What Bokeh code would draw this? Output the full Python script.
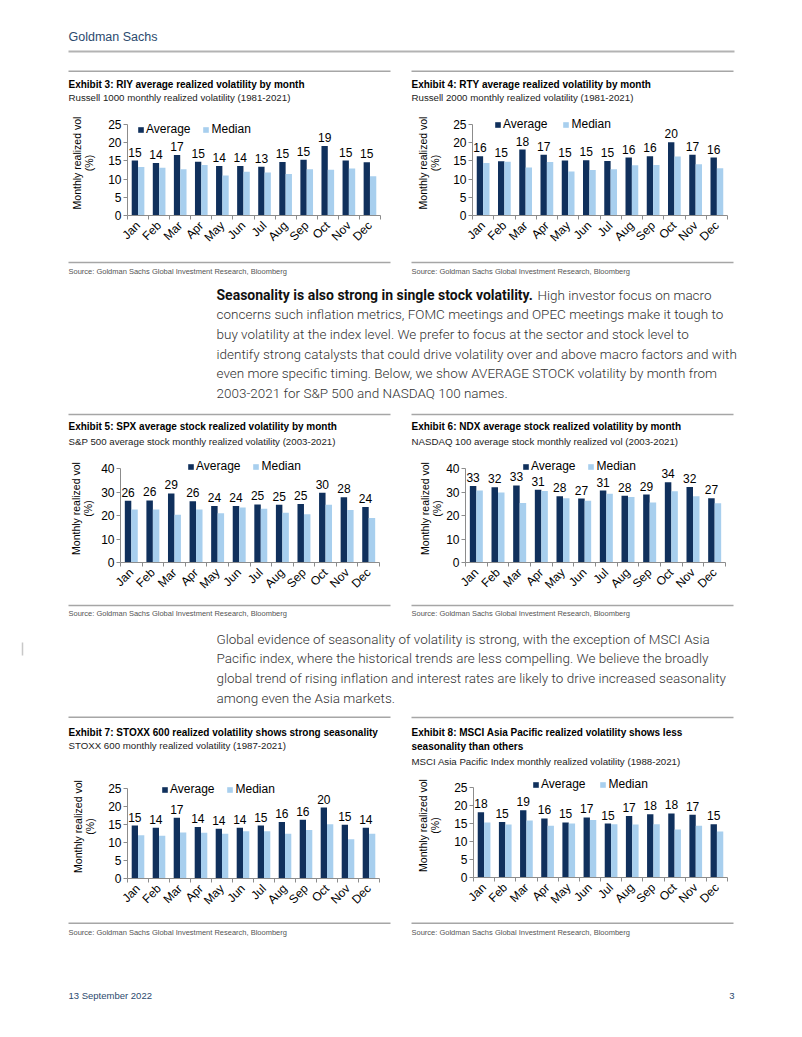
import numpy as np
from bokeh.plotting import figure
from bokeh.layouts import column, row
from bokeh.models import Range1d, FixedTicker, Legend, LegendItem, ColumnDataSource, LabelSet
from bokeh.transform import dodge
from bokeh.core.properties import value
from bokeh.embed import file_html
from bokeh.resources import INLINE

# ---------------- data ----------------
months = ["Jan", "Feb", "Mar", "Apr", "May", "Jun", "Jul", "Aug", "Sep", "Oct", "Nov", "Dec"]
series_names = ["Average", "Median"]

riy_avg = [15.1, 14.4, 16.6, 14.8, 13.6, 13.6, 13.4, 14.7, 15.3, 19.1, 15.1, 14.6]
riy_med = [13.3, 13.1, 12.7, 13.9, 11.0, 12.0, 11.8, 11.4, 12.7, 12.6, 12.9, 10.8]

rty_avg = [16.3, 14.9, 18.1, 16.7, 15.1, 15.2, 15.0, 15.9, 16.3, 20.1, 16.7, 15.9]
rty_med = [14.4, 14.8, 13.2, 14.7, 12.1, 12.5, 12.7, 13.8, 13.9, 16.2, 14.1, 13.0]

spx_avg = [26.3, 26.4, 29.4, 26.1, 24.0, 24.0, 24.7, 24.6, 24.9, 29.7, 27.8, 23.6]
spx_med = [22.6, 22.6, 20.3, 22.6, 21.0, 23.4, 22.9, 21.2, 20.5, 24.6, 22.3, 18.9]

ndx_avg = [32.6, 32.0, 32.8, 31.0, 28.2, 27.2, 30.6, 28.4, 28.9, 34.2, 32.1, 27.3]
ndx_med = [30.6, 29.8, 25.3, 30.4, 27.3, 26.3, 29.3, 27.9, 25.5, 30.3, 28.2, 25.2]

stoxx_avg = [14.7, 14.1, 16.9, 14.3, 13.8, 14.1, 14.7, 15.7, 16.3, 19.7, 14.9, 14.1]
stoxx_med = [12.0, 11.9, 12.8, 12.7, 12.4, 13.1, 13.1, 12.4, 13.5, 15.1, 10.9, 12.4]

mxap_avg = [18.1, 15.4, 18.7, 16.4, 15.3, 16.7, 15.0, 17.1, 17.6, 17.8, 17.4, 14.8]
mxap_med = [15.3, 14.7, 15.8, 14.4, 15.0, 16.0, 14.8, 14.7, 14.8, 13.3, 14.4, 12.8]

y_axis_label = "Monthly realized vol\n(%)"
source_text = "Source: Goldman Sachs Global Investment Research, Bloomberg"

para1_bold = "Seasonality is also strong in single stock volatility."
para1_lines = [
    "High investor focus on macro",
    "concerns such inflation metrics, FOMC meetings and OPEC meetings make it tough to",
    "buy volatility at the index level. We prefer to focus at the sector and stock level to",
    "identify strong catalysts that could drive volatility over and above macro factors and with",
    "even more specific timing. Below, we show AVERAGE STOCK volatility by month from",
    "2003-2021 for S&P 500 and NASDAQ 100 names.",
]
para2_lines = [
    "Global evidence of seasonality of volatility is strong, with the exception of MSCI Asia",
    "Pacific index, where the historical trends are less compelling. We believe the broadly",
    "global trend of rising inflation and interest rates are likely to drive increased seasonality",
    "among even the Asia markets.",
]

# ---------------- style ----------------
DARK = "#10305c"
LIGHT = "#a8cfee"
RULE = "#a6a6a6"
AXIS = "#8c8c8c"
CHART_FONT = "Liberation Sans"
BODY = "'Roboto Light', Roboto"
BODY_BOLD = "Roboto"
HEAD = "#2c4a6e"
W = 800
LW, RW = 398, 402
EXT = 14  # frame head-room above the top tick, so legend and labels are not clipped


def blank(w, h):
    p = figure(width=w, height=h, x_range=Range1d(0, w), y_range=Range1d(h, 0),
               x_axis_type=None, y_axis_type=None, output_backend="svg",
               toolbar_location=None, min_border=0, title=None, frame_align=False)
    p.outline_line_color = None
    return p


def put_text(p, x, y, s, size, font=CHART_FONT, style="normal", color="#111", align="left"):
    p.text(x=[x], y=[y], text=[s], text_font=value(font), text_font_size=size,
           text_font_style=style, text_color=color, text_align=align, text_baseline="middle")


def rule(p, x0, x1, y, color=RULE, width=1.5):
    p.segment(x0=[x0], y0=[y], x1=[x1], y1=[y], line_color=color, line_width=width)


def chart(w, h, fl, ft, fw, fh, avg, med, ymax, ystep, leg_x, leg_dy, leg_sp, ax_standoff):
    yr = ymax * (fh + EXT) / fh
    p = figure(width=w, height=h, x_range=Range1d(-0.5, 11.5), y_range=Range1d(0, yr),
               output_backend="svg", toolbar_location=None, title=None, frame_align=False,
               min_border_left=fl, min_border_top=ft - EXT,
               min_border_right=w - fl - fw, min_border_bottom=h - ft - fh)
    p.grid.visible = False
    p.outline_line_color = None
    src = ColumnDataSource(dict(x=list(range(len(months))), avg=avg, med=med,
                                lab=[f"{v:.0f}" for v in avg]))
    r1 = p.vbar(x=dodge("x", -0.15), top="avg", width=0.3, source=src,
                fill_color=DARK, line_color=None)
    r2 = p.vbar(x=dodge("x", 0.15), top="med", width=0.3, source=src,
                fill_color=LIGHT, line_color=None)
    labels = LabelSet(x=dodge("x", -0.15), y="avg", text="lab", source=src,
                      text_align="center", text_baseline="bottom", y_offset=4,
                      text_font=value(CHART_FONT), text_font_size=value("12px"),
                      text_color=value("#000"))
    p.add_layout(labels)

    leg = Legend(items=[LegendItem(label=series_names[0], renderers=[r1]),
                        LegendItem(label=series_names[1], renderers=[r2])],
                 orientation="horizontal", location=(leg_x, fh - leg_dy - 7),
                 border_line_color=None, background_fill_alpha=0, padding=0, margin=0,
                 spacing=leg_sp, label_standoff=2, glyph_width=7, glyph_height=7,
                 label_height=14, label_text_font=CHART_FONT,
                 label_text_font_size="12px", label_text_color="#000")
    p.add_layout(leg)

    xa = p.xaxis[0]
    xa.ticker = FixedTicker(ticks=list(range(12)), minor_ticks=[i - 0.5 for i in range(13)])
    xa.major_label_overrides = {i: m for i, m in enumerate(months)}
    xa.major_label_orientation = np.pi / 4
    xa.major_tick_line_color = None
    xa.major_tick_in = 0
    xa.major_tick_out = 0
    xa.minor_tick_in = 0
    xa.minor_tick_out = 4
    xa.minor_tick_line_color = AXIS
    xa.axis_line_color = AXIS
    xa.major_label_standoff = 4
    xa.major_label_text_font = CHART_FONT
    xa.major_label_text_font_size = "12px"
    xa.major_label_text_color = "#000"

    ya = p.yaxis[0]
    ya.bounds = (0, ymax)
    ya.ticker = FixedTicker(ticks=list(range(0, ymax + 1, ystep)))
    ya.major_tick_in = 0
    ya.major_tick_out = 4
    ya.major_tick_line_color = AXIS
    ya.minor_tick_line_color = None
    ya.axis_line_color = AXIS
    ya.major_label_standoff = 2
    ya.major_label_text_font = CHART_FONT
    ya.major_label_text_font_size = "12px"
    ya.major_label_text_color = "#000"
    ya.axis_label = y_axis_label
    ya.axis_label_standoff = ax_standoff
    ya.axis_label_text_font = CHART_FONT
    ya.axis_label_text_font_size = "10.5px"
    ya.axis_label_text_font_style = "normal"
    ya.axis_label_text_line_height = 1.05
    ya.axis_label_text_color = "#000"
    return p


def exhibit(side, title_lines, subtitle, title_h, rule_y, title_ys, sub_y, chart_h, cparams,
            src_h, src_rule_y, src_y):
    w = LW if side == "L" else RW
    x0 = 68 if side == "L" else 13
    x1 = 390 if side == "L" else 335
    t = blank(w, title_h)
    rule(t, x0, x1, rule_y)
    for s, y in zip(title_lines, title_ys):
        put_text(t, x0, y, s, "10px", style="bold", color="#000")
    put_text(t, x0, sub_y, subtitle, "9.7px", color="#222")
    c = chart(w, chart_h, **cparams)
    s = blank(w, src_h)
    rule(s, x0, x1, src_rule_y)
    put_text(s, x0, src_y, source_text, "7.5px", color="#555")
    return column(t, c, s, spacing=0)


# ---------------- page ----------------
header = blank(W, 62)
put_text(header, 68, 36, "Goldman Sachs", "12.5px", color=HEAD)
rule(header, 68, 734, 51, color="#b3b3b3", width=2)

ex3 = exhibit("L", ["Exhibit 3: RIY average realized volatility by month"],
              "Russell 1000 monthly realized volatility (1981-2021)",
              46, 8.7, [22], 34.7, 150,
              dict(fl=127, ft=16, fw=253, fh=91, avg=riy_avg, med=riy_med, ymax=25, ystep=5,
                   leg_x=10, leg_dy=5, leg_sp=12, ax_standoff=10),
              22, 4, 13)
ex4 = exhibit("R", ["Exhibit 4: RTY average realized volatility by month"],
              "Russell 2000 monthly realized volatility (1981-2021)",
              46, 8.7, [22], 34.7, 150,
              dict(fl=74, ft=16, fw=255, fh=91, avg=rty_avg, med=rty_med, ymax=25, ystep=5,
                   leg_x=22, leg_dy=0, leg_sp=15, ax_standoff=9),
              22, 4, 13)

para1 = blank(W, 124)
p1y = [14, 33.5, 53, 73, 92.5, 112]
put_text(para1, 216, p1y[0], para1_bold, "14px", font=BODY_BOLD, style="bold", color="#111")
put_text(para1, 537, p1y[0], para1_lines[0], "13.5px", font=BODY, color="#333")
for s, y in zip(para1_lines[1:], p1y[1:]):
    put_text(para1, 216, y, s, "13.5px", font=BODY, color="#333")

ex5 = exhibit("L", ["Exhibit 5: SPX average stock realized volatility by month"],
              "S&P 500 average stock monthly realized volatility (2003-2021)",
              46, 10, [21.7], 37, 150,
              dict(fl=120, ft=18, fw=259, fh=94, avg=spx_avg, med=spx_med, ymax=40, ystep=10,
                   leg_x=67, leg_dy=-2, leg_sp=12, ax_standoff=4),
              22, 5, 13)
ex6 = exhibit("R", ["Exhibit 6: NDX average stock realized volatility by month"],
              "NASDAQ 100 average stock monthly realized vol (2003-2021)",
              46, 10, [21.7], 37, 150,
              dict(fl=67, ft=18, fw=260, fh=94, avg=ndx_avg, med=ndx_med, ymax=40, ystep=10,
                   leg_x=57, leg_dy=-2, leg_sp=12, ax_standoff=0),
              22, 5, 13)

para2 = blank(W, 86)
for s, y in zip(para2_lines, [16, 35.5, 55, 75]):
    put_text(para2, 216, y, s, "13.5px", font=BODY, color="#333")
para2.segment(x0=[22], y0=[20], x1=[22], y1=[33], line_color="#c8c8c8", line_width=1.5)

ex7 = exhibit("L", ["Exhibit 7: STOXX 600 realized volatility shows strong seasonality"],
              "STOXX 600 monthly realized volatility (1987-2021)",
              62, 8.7, [23.7], 37, 148,
              dict(fl=127, ft=18, fw=252, fh=90, avg=stoxx_avg, med=stoxx_med, ymax=25, ystep=5,
                   leg_x=34, leg_dy=1, leg_sp=12, ax_standoff=9),
              27, 4.7, 13.5)
ex8 = exhibit("R", ["Exhibit 8: MSCI Asia Pacific realized volatility shows less",
                    "seasonality than others"],
              "MSCI Asia Pacific Index monthly realized volatility (1988-2021)",
              62, 9, [23.7, 37.7], 52.7, 148,
              dict(fl=75, ft=17, fw=254, fh=90, avg=mxap_avg, med=mxap_med, ymax=25, ystep=5,
                   leg_x=59, leg_dy=-3, leg_sp=14, ax_standoff=10),
              27, 4.7, 13.5)

footer = blank(W, 90)
put_text(footer, 68, 50, "13 September 2022", "9.5px", color=HEAD)
put_text(footer, 734, 50, "3", "9.5px", color=HEAD, align="right")

page = column(header, row(ex3, ex4, spacing=0), para1, row(ex5, ex6, spacing=0), para2,
              row(ex7, ex8, spacing=0), footer, spacing=0)

open("out.html", "w").write(file_html(page, INLINE))
